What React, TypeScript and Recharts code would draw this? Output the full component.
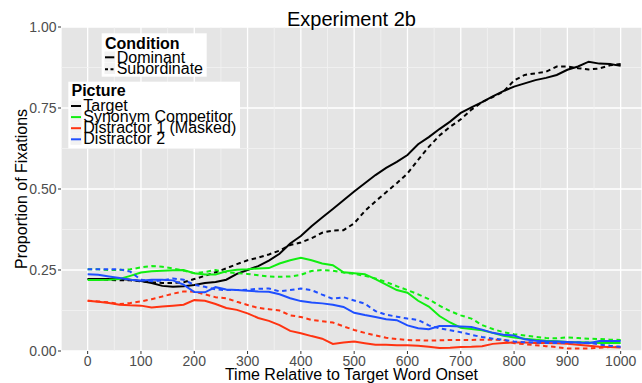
import { CartesianGrid, Line, LineChart, ReferenceLine, XAxis, YAxis } from "recharts";

const times = [
  0, 20, 40, 60, 80, 100, 120, 140, 160, 180, 200, 220, 240, 260, 280, 300, 320, 340, 360, 380, 400,
  420, 440, 460, 480, 500, 520, 540, 560, 580, 600, 620, 640, 660, 680, 700, 720, 740, 760, 780, 800,
  820, 840, 860, 880, 900, 920, 940, 960, 980, 1000,
];

const targetDominant = [
  0.222, 0.222, 0.222, 0.222, 0.22, 0.216, 0.21, 0.201, 0.198, 0.2, 0.204, 0.21, 0.213, 0.22, 0.238, 0.25,
  0.262, 0.279, 0.3, 0.332, 0.355, 0.385, 0.412, 0.438, 0.465, 0.492, 0.518, 0.543, 0.565, 0.584, 0.605,
  0.638, 0.66, 0.685, 0.708, 0.735, 0.752, 0.768, 0.786, 0.802, 0.816, 0.826, 0.836, 0.843, 0.852, 0.868,
  0.878, 0.893, 0.887, 0.886, 0.88,
];
const targetSubordinate = [
  0.222, 0.222, 0.22, 0.218, 0.218, 0.215, 0.212, 0.21, 0.21, 0.212, 0.222, 0.232, 0.243, 0.255, 0.268, 0.28,
  0.288, 0.298, 0.31, 0.327, 0.335, 0.348, 0.365, 0.372, 0.373, 0.394, 0.432, 0.462, 0.49, 0.518, 0.548,
  0.59, 0.63, 0.665, 0.692, 0.715, 0.745, 0.768, 0.784, 0.8, 0.835, 0.852, 0.857, 0.862, 0.878, 0.878,
  0.873, 0.869, 0.872, 0.882, 0.886,
];
const synonymDominant = [
  0.219, 0.219, 0.22, 0.222, 0.232, 0.242, 0.246, 0.248, 0.249, 0.25, 0.24, 0.236, 0.236, 0.246, 0.251, 0.252,
  0.255, 0.256, 0.27, 0.28, 0.288, 0.28, 0.27, 0.265, 0.243, 0.24, 0.237, 0.222, 0.205, 0.188, 0.18, 0.155,
  0.137, 0.108, 0.088, 0.072, 0.068, 0.064, 0.056, 0.047, 0.042, 0.038, 0.035, 0.032, 0.03, 0.028, 0.027,
  0.026, 0.025, 0.025, 0.025,
];
const synonymSubordinate = [
  0.252, 0.252, 0.25, 0.25, 0.252, 0.258, 0.262, 0.26, 0.255, 0.248, 0.24, 0.244, 0.25, 0.243, 0.24, 0.238,
  0.234, 0.23, 0.229, 0.23, 0.235, 0.247, 0.25, 0.248, 0.242, 0.238, 0.232, 0.224, 0.213, 0.2, 0.188, 0.175,
  0.16, 0.14, 0.123, 0.11, 0.1, 0.08, 0.068, 0.058, 0.052, 0.048, 0.044, 0.04, 0.039, 0.042, 0.04, 0.038,
  0.037, 0.035, 0.034,
];
const distractor1Dominant = [
  0.155, 0.152, 0.148, 0.143, 0.141, 0.14, 0.134, 0.137, 0.14, 0.143, 0.157, 0.155, 0.145, 0.133, 0.127, 0.116,
  0.102, 0.093, 0.08, 0.062, 0.055, 0.046, 0.038, 0.022, 0.026, 0.029, 0.024, 0.019, 0.019, 0.018, 0.018,
  0.016, 0.013, 0.009, 0.01, 0.012, 0.013, 0.015, 0.022, 0.025, 0.026, 0.026, 0.025, 0.025, 0.024, 0.022,
  0.019, 0.016, 0.013, 0.012, 0.011,
];
const distractor1Subordinate = [
  0.155, 0.153, 0.15, 0.145, 0.148, 0.153, 0.16, 0.168, 0.177, 0.184, 0.183, 0.175, 0.166, 0.163, 0.152, 0.142,
  0.133, 0.129, 0.125, 0.11, 0.105, 0.096, 0.092, 0.088, 0.076, 0.065, 0.056, 0.048, 0.041, 0.037, 0.034,
  0.033, 0.032, 0.033, 0.034, 0.034, 0.034, 0.035, 0.035, 0.034, 0.024, 0.021, 0.018, 0.015, 0.012, 0.008,
  0.008, 0.008, 0.01, 0.012, 0.013,
];
const distractor2Dominant = [
  0.237, 0.235, 0.23, 0.225, 0.22, 0.217, 0.22, 0.22, 0.218, 0.205, 0.182, 0.181, 0.197, 0.19, 0.188, 0.186,
  0.184, 0.183, 0.175, 0.163, 0.154, 0.15, 0.147, 0.143, 0.136, 0.118, 0.111, 0.105, 0.098, 0.095, 0.079,
  0.07, 0.067, 0.077, 0.077, 0.076, 0.074, 0.066, 0.056, 0.05, 0.048, 0.036, 0.032, 0.03, 0.029, 0.028,
  0.026, 0.024, 0.031, 0.031, 0.031,
];
const distractor2Subordinate = [
  0.252, 0.252, 0.252, 0.252, 0.245, 0.22, 0.215, 0.218, 0.224, 0.22, 0.204, 0.198, 0.19, 0.188, 0.188, 0.189,
  0.192, 0.193, 0.184, 0.188, 0.193, 0.188, 0.174, 0.161, 0.166, 0.156, 0.146, 0.123, 0.112, 0.106, 0.1,
  0.096, 0.079, 0.07, 0.064, 0.058, 0.05, 0.043, 0.038, 0.035, 0.029, 0.027, 0.026, 0.025, 0.025, 0.026,
  0.026, 0.026, 0.02, 0.016, 0.013,
];

const xTicks = [0, 100, 200, 300, 400, 500, 600, 700, 800, 900, 1000];
const xMinor = [50, 150, 250, 350, 450, 550, 650, 750, 850, 950];
const yTicks = [0, 0.25, 0.5, 0.75, 1];
const yMinor = [0.125, 0.375, 0.625, 0.875];

const pictures = ["Target", "Synonym Competitor", "Distractor 1 (Masked)", "Distractor 2"];
const conditions = ["Dominant", "Subordinate"];
const colors = ["#000000", "#11ee11", "#ff3311", "#1f4fff"];

const series = [
  { key: "td", values: targetDominant, pic: 0, cond: 0 },
  { key: "ts", values: targetSubordinate, pic: 0, cond: 1 },
  { key: "sd", values: synonymDominant, pic: 1, cond: 0 },
  { key: "ss", values: synonymSubordinate, pic: 1, cond: 1 },
  { key: "d1d", values: distractor1Dominant, pic: 2, cond: 0 },
  { key: "d1s", values: distractor1Subordinate, pic: 2, cond: 1 },
  { key: "d2d", values: distractor2Dominant, pic: 3, cond: 0 },
  { key: "d2s", values: distractor2Subordinate, pic: 3, cond: 1 },
];

const data = times.map((t, i) => {
  const row: Record<string, number> = { t };
  series.forEach((s) => (row[s.key] = s.values[i]));
  return row;
});

const font = "'Liberation Sans', Arial, Helvetica, sans-serif";
const tickStyle = { fontSize: 14, fill: "#4d4d4d", fontFamily: font };

export default function App() {
  return (
    <div style={{ position: "absolute", left: 0, top: 0, width: 642, height: 383, background: "#fff", overflow: "hidden" }}>
      <LineChart width={642} height={383} data={data} margin={{ top: 27, right: 0, bottom: 0, left: 0 }}>
        <CartesianGrid fill="#e5e5e5" stroke="#ffffff" strokeWidth={1.3} />
        {xMinor.map((x) => (
          <ReferenceLine key={"vx" + x} x={x} stroke="#f2f2f2" strokeWidth={0.8} />
        ))}
        {yMinor.map((y) => (
          <ReferenceLine key={"hy" + y} y={y} stroke="#f2f2f2" strokeWidth={0.8} />
        ))}
        <XAxis
          dataKey="t"
          type="number"
          domain={[-50, 1040]}
          ticks={xTicks}
          height={32}
          axisLine={false}
          tickSize={3}
          tickMargin={2}
          tickLine={{ stroke: "#333333" }}
          tick={tickStyle}
          allowDataOverflow
        />
        <YAxis
          type="number"
          domain={[0, 1]}
          ticks={yTicks}
          width={61}
          axisLine={false}
          tickSize={3}
          tickMargin={1.5}
          tickLine={{ stroke: "#333333" }}
          tick={tickStyle}
          tickFormatter={(v: number) => v.toFixed(2)}
        />
        {series.map((s) => (
          <Line
            key={s.key}
            dataKey={s.key}
            type="linear"
            stroke={colors[s.pic]}
            strokeWidth={2}
            strokeDasharray={s.cond === 1 ? "4.5 3.5" : undefined}
            dot={false}
            activeDot={false}
            isAnimationActive={false}
          />
        ))}
      </LineChart>
      <svg width={642} height={383} style={{ position: "absolute", left: 0, top: 0, pointerEvents: "none" }} fontFamily={font}>
        <text x={351.5} y={25.7} textAnchor="middle" fontSize={20} fill="#000">
          Experiment 2b
        </text>
        <text x={351.5} y={380} textAnchor="middle" fontSize={16} fill="#000">
          Time Relative to Target Word Onset
        </text>
        <text x={26.5} y={189} textAnchor="middle" fontSize={16} fill="#000" transform="rotate(-90 26.5 189)">
          Proportion of Fixations
        </text>

        <rect x={101.7} y={33.3} width={105} height={43.4} fill="#fff" />
        <text x={105} y={49.3} fontSize={16} fontWeight="bold" fill="#000">
          Condition
        </text>
        {conditions.map((c, i) => (
          <g key={c}>
            <rect x={104.5} y={51.5 + i * 11.5} width={10.5} height={11} fill="#f2f2f2" />
            <line
              x1={105}
              x2={114.3}
              y1={57.3 + i * 12}
              y2={57.3 + i * 12}
              stroke="#000"
              strokeWidth={2}
              strokeDasharray={i === 1 ? "3 2.5" : undefined}
            />
            <text x={116.7} y={63.3 + i * 10.7} fontSize={16} fill="#000">
              {c}
            </text>
          </g>
        ))}

        <rect x={68.3} y={81.7} width={171.7} height={66.6} fill="#fff" />
        <text x={71.5} y={96} fontSize={16} fontWeight="bold" fill="#000">
          Picture
        </text>
        {pictures.map((p, i) => (
          <g key={p}>
            <rect x={70.5} y={100.5 + i * 11.1} width={11} height={11} fill="#f2f2f2" />
            <line x1={71} x2={81} y1={106 + i * 11.1} y2={106 + i * 11.1} stroke={colors[i]} strokeWidth={2} />
            <text x={83.3} y={110.7 + i * 11.1} fontSize={16} fill="#000">
              {p}
            </text>
          </g>
        ))}
      </svg>
    </div>
  );
}
